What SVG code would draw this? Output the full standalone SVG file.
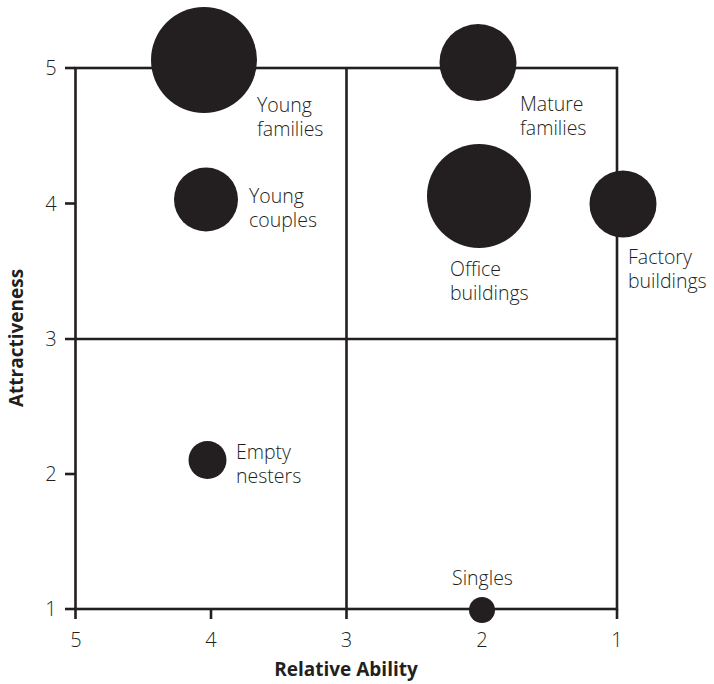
<svg xmlns="http://www.w3.org/2000/svg" width="714" height="684" viewBox="0 0 714 684">
  <style>
    .ax { stroke: #231f20; stroke-width: 2.6; fill: none; stroke-linecap: butt; }
    .dot { fill: #231f20; }
    .lbl { font-family: "Open Sans", "Noto Sans", sans-serif; font-size: 19.5px; font-weight: 300; fill: #231f20; }
    .tick { font-family: "Open Sans", "Noto Sans", sans-serif; font-size: 20px; font-weight: 300; fill: #231f20; text-anchor: middle; }
    .title { font-family: "Open Sans", "Noto Sans", sans-serif; font-size: 19px; font-weight: bold; fill: #231f20; text-anchor: middle; }
  </style>
  <rect width="714" height="684" fill="#ffffff"/>

  <!-- quadrant frame, dividers and ticks -->
  <g id="axes">
    <rect class="ax" x="75.5" y="68" width="541.5" height="541"/>
    <line class="ax" x1="346.5" y1="68" x2="346.5" y2="619"/>
    <line class="ax" x1="65" y1="339" x2="617" y2="339"/>
    <!-- y ticks -->
    <line class="ax" x1="65" y1="68" x2="75" y2="68"/>
    <line class="ax" x1="65" y1="203.5" x2="75" y2="203.5"/>
    <line class="ax" x1="65" y1="474" x2="75" y2="474"/>
    <line class="ax" x1="65" y1="609" x2="75" y2="609"/>
    <!-- x ticks -->
    <line class="ax" x1="75.5" y1="609" x2="75.5" y2="619"/>
    <line class="ax" x1="211" y1="609" x2="211" y2="619"/>
    <line class="ax" x1="482" y1="609" x2="482" y2="619"/>
    <line class="ax" x1="617" y1="609" x2="617" y2="619"/>
    <!-- tick labels -->
    <text class="tick" x="51" y="75">5</text>
    <text class="tick" x="51" y="211">4</text>
    <text class="tick" x="51" y="346">3</text>
    <text class="tick" x="51" y="481">2</text>
    <text class="tick" x="51" y="616">1</text>
    <text class="tick" x="76" y="647">5</text>
    <text class="tick" x="211" y="647">4</text>
    <text class="tick" x="346.5" y="647">3</text>
    <text class="tick" x="482" y="647">2</text>
    <text class="tick" x="617" y="647">1</text>
    <text class="title" x="346" y="676">Relative Ability</text>
    <text class="title" transform="translate(23 338) rotate(-90)">Attractiveness</text>
  </g>

  <!-- segments -->
  <g id="young-families">
    <circle class="dot" cx="204" cy="60" r="53"/>
    <text class="lbl" x="257" y="112">Young<tspan x="257" dy="24">families</tspan></text>
  </g>
  <g id="young-couples">
    <circle class="dot" cx="206" cy="199.5" r="32"/>
    <text class="lbl" x="249" y="203">Young<tspan x="249" dy="24">couples</tspan></text>
  </g>
  <g id="empty-nesters">
    <circle class="dot" cx="207.5" cy="460" r="19"/>
    <text class="lbl" x="236" y="459">Empty<tspan x="236" dy="24">nesters</tspan></text>
  </g>
  <g id="mature-families">
    <circle class="dot" cx="478" cy="62.5" r="38.5"/>
    <text class="lbl" x="520" y="111">Mature<tspan x="520" dy="24">families</tspan></text>
  </g>
  <g id="office-buildings">
    <circle class="dot" cx="479" cy="196" r="52"/>
    <text class="lbl" x="450" y="276">Office<tspan x="450" dy="24">buildings</tspan></text>
  </g>
  <g id="factory-buildings">
    <circle class="dot" cx="623" cy="204" r="33.5"/>
    <text class="lbl" x="628" y="264">Factory<tspan x="628" dy="24">buildings</tspan></text>
  </g>
  <g id="singles">
    <circle class="dot" cx="482" cy="610" r="13"/>
    <text class="lbl" x="482.5" y="585" text-anchor="middle">Singles</text>
  </g>
</svg>
